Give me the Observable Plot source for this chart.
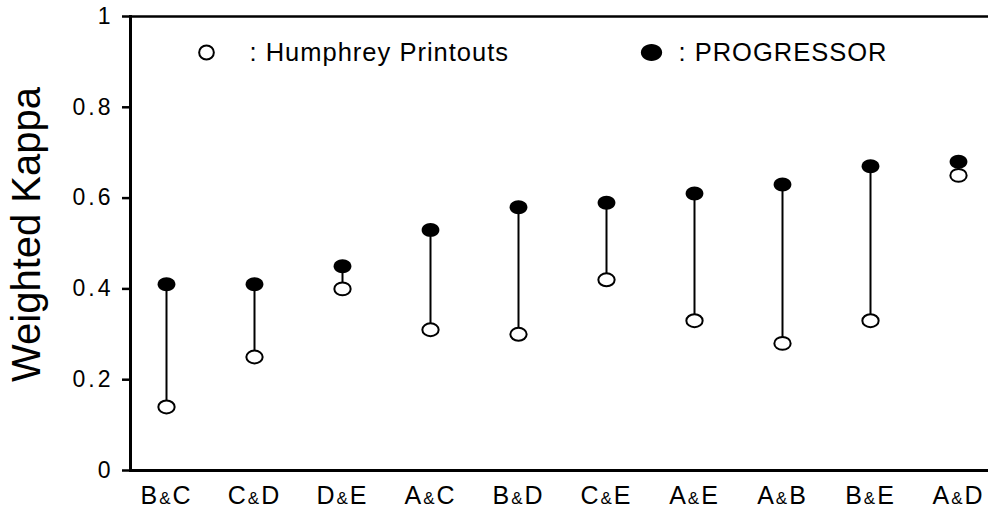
<!DOCTYPE html>
<html>
<head>
<meta charset="utf-8">
<script src="https://cdn.jsdelivr.net/npm/d3@7"></script>
<script src="https://cdn.jsdelivr.net/npm/@observablehq/plot@0.6"></script>
<style>
  html, body { margin: 0; padding: 0; background: #fff; overflow: hidden; }
  #chart svg { display: block; max-width: none !important; }
</style>
</head>
<body>
<div id="chart"></div>
<script>
// Observer pairs, ordered by PROGRESSOR agreement
const pairs = ["B&C", "C&D", "D&E", "A&C", "B&D", "C&E", "A&E", "A&B", "B&E", "A&D"];
// Weighted kappa from Humphrey printouts (open) and PROGRESSOR (filled)
const humphrey   = [0.14, 0.25, 0.40, 0.31, 0.30, 0.42, 0.33, 0.28, 0.33, 0.65];
const progressor = [0.41, 0.41, 0.45, 0.53, 0.58, 0.59, 0.61, 0.63, 0.67, 0.68];
const yTicks = [0, 0.2, 0.4, 0.6, 0.8, 1];
const legendLabels = [": Humphrey Printouts", ": PROGRESSOR"];
const yLabel = "Weighted Kappa";

const rows = pairs.map((pair, i) => ({pair, humphrey: humphrey[i], progressor: progressor[i]}));

const font = "'Liberation Sans', Arial, Helvetica, sans-serif";

// Ellipse symbol (slightly wider than tall), drawn with four cubic arcs
function ellipseSymbol(sx, sy) {
  return {
    draw(ctx, size) {
      const r = Math.sqrt(size / Math.PI);
      const rx = r * sx, ry = r * sy, k = 0.5523;
      ctx.moveTo(rx, 0);
      ctx.bezierCurveTo(rx, ry * k, rx * k, ry, 0, ry);
      ctx.bezierCurveTo(-rx * k, ry, -rx, ry * k, -rx, 0);
      ctx.bezierCurveTo(-rx, -ry * k, -rx * k, -ry, 0, -ry);
      ctx.bezierCurveTo(rx * k, -ry, rx, -ry * k, rx, 0);
      ctx.closePath();
    }
  };
}

const chart = Plot.plot({
  width: 988,
  height: 510,
  marginLeft: 130,
  marginRight: 0,
  marginTop: 16,
  marginBottom: 40,
  style: {fontFamily: font, color: "#000", background: "#fff", overflow: "visible"},
  x: {type: "point", domain: pairs, range: [163, 960], padding: 0, label: null},
  y: {domain: [0, 1], label: null},
  marks: [
    // axis frame: left, bottom and top edges
    Plot.frame({anchor: "left", strokeWidth: 3, stroke: "#000"}),
    Plot.ruleY([0], {strokeWidth: 3, stroke: "#000"}),
    Plot.ruleY([1], {strokeWidth: 2.5, stroke: "#000"}),
    Plot.axisY({ticks: yTicks, tickSize: 8, tickPadding: 9, fontSize: 23, strokeWidth: 2.5,
                tickFormat: d => `${d}`, label: null}),
    Plot.axisX({tickSize: 0, tickPadding: 16, fontSize: 25, label: null}),
    // connecting segments
    Plot.ruleX(rows, {x: "pair", y1: "humphrey", y2: "progressor", stroke: "#000", strokeWidth: 2}),
    // Humphrey printouts (open)
    Plot.dot(rows, {x: "pair", y: "humphrey", r: 6.8, symbol: ellipseSymbol(1.2, 0.95),
                    fill: "#fff", stroke: "#000", strokeWidth: 2}),
    // PROGRESSOR (filled)
    Plot.dot(rows, {x: "pair", y: "progressor", r: 7.6, symbol: ellipseSymbol(1.17, 0.92),
                    fill: "#000", stroke: "none"}),
    // legend
    Plot.dot([legendLabels[0]], {x: null, y: null, frameAnchor: "top-left", dx: 76, dy: 36, r: 7,
                    symbol: ellipseSymbol(1.05, 1), fill: "#fff", stroke: "#000", strokeWidth: 2}),
    Plot.text([legendLabels[0]], {frameAnchor: "top-left", dx: 119, dy: 36, textAnchor: "start",
                    lineAnchor: "middle", fontSize: 25.5}),
    Plot.dot([legendLabels[1]], {x: null, y: null, frameAnchor: "top-left", dx: 521, dy: 36, r: 8.5,
                    symbol: ellipseSymbol(1.25, 1), fill: "#000", stroke: "none"}),
    Plot.text([legendLabels[1]], {frameAnchor: "top-left", dx: 548, dy: 36, textAnchor: "start",
                    lineAnchor: "middle", fontSize: 25.5}),
    // y-axis title
    Plot.text([yLabel], {frameAnchor: "left", dx: -103, dy: -9, rotate: -90, textAnchor: "middle",
                    lineAnchor: "middle", fontSize: 40})
  ]
});

const svg = d3.select(chart);
svg.selectAll('g[aria-label="y-axis tick label"] text').attr("letter-spacing", 3);
svg.selectAll('g[aria-label="text"] text').attr("letter-spacing", 1);
svg.selectAll('g[aria-label="x-axis tick label"] text').each(function () {
  const [a, b] = this.textContent.split("&");
  const t = d3.select(this).text(null).attr("letter-spacing", 2);
  t.append("tspan").text(a);
  t.append("tspan").attr("font-size", 17).text("&");
  t.append("tspan").text(b);
});
// keep the y-axis title without extra tracking
svg.selectAll('g[aria-label="text"] text').filter(function () { return this.textContent === yLabel; })
  .attr("letter-spacing", 0);

document.getElementById("chart").append(chart);
</script>
</body>
</html>
